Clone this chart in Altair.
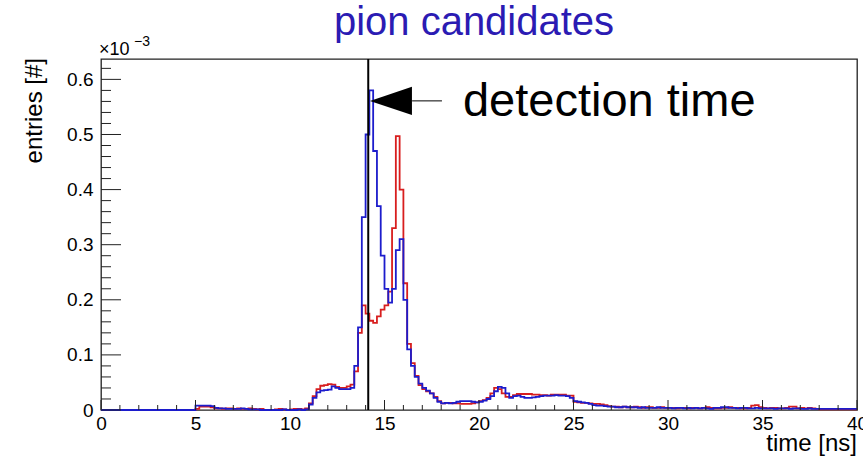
import altair as alt
import pandas as pd

# ---------------- data (values in units of 1e-3) ----------------
BIN_WIDTH = 0.2  # ns
red_counts = [
    0, 0, 0, 0, 0, 0, 0, 0, 0, 0,
    0, 0, 0, 0, 0, 0, 0, 0, 0, 0,
    0, 0, 0, 0, 0, 0.002, 0.006, 0.006, 0.006, 0.005,
    0.003, 0.003, 0.002, 0.003, 0.003, 0.002, 0.003, 0.002, 0.002, 0.003,
    0.002, 0.001, 0.002, 0, 0, 0, 0.001, 0.002, 0.001, 0,
    0.001, 0.002, 0.002, 0.001, 0.003, 0.012, 0.025, 0.038, 0.044, 0.045,
    0.047, 0.046, 0.042, 0.040, 0.040, 0.043, 0.046, 0.07, 0.14, 0.19,
    0.175, 0.162, 0.158, 0.17, 0.182, 0.19, 0.215, 0.33, 0.497, 0.40,
    0.23, 0.12, 0.085, 0.062, 0.045, 0.038, 0.034, 0.03, 0.024, 0.016,
    0.012, 0.013, 0.013, 0.012, 0.012, 0.011, 0.011, 0.011, 0.012, 0.014,
    0.016, 0.018, 0.022, 0.03, 0.04, 0.038, 0.03, 0.024, 0.024, 0.027,
    0.029, 0.029, 0.029, 0.029, 0.028, 0.028, 0.027, 0.027, 0.026, 0.028,
    0.028, 0.028, 0.028, 0.026, 0.026, 0.015, 0.014, 0.013, 0.013, 0.012,
    0.011, 0.011, 0.010, 0.009, 0.007, 0.006, 0.006, 0.005, 0.006, 0.005,
    0.005, 0.006, 0.005, 0.004, 0.005, 0.005, 0.004, 0.004, 0.005, 0.004,
    0.004, 0.004, 0.003, 0.004, 0.004, 0.003, 0.004, 0.004, 0.003, 0.004,
    0.005, 0.004, 0.003, 0.003, 0.004, 0.004, 0.005, 0.004, 0.004, 0.003,
    0.003, 0.004, 0.008, 0.009, 0.005, 0.004, 0.003, 0.004, 0.004, 0.003,
    0.003, 0.004, 0.006, 0.006, 0.003, 0.004, 0.003, 0.004, 0.003, 0.002,
    0.001, 0.001, 0.001, 0.001, 0.001, 0.001, 0.001, 0.001, 0.001, 0.001,
]
blue_counts = [
    0, 0, 0, 0, 0, 0, 0, 0, 0, 0,
    0, 0, 0, 0, 0, 0, 0, 0, 0, 0,
    0, 0, 0, 0, 0, 0.008, 0.008, 0.008, 0.008, 0.007,
    0.004, 0.003, 0.003, 0.002, 0.002, 0.002, 0.002, 0.003, 0.002, 0.001,
    0.001, 0.001, 0, 0, 0, 0, 0, 0, 0.001, 0,
    0, 0, 0.001, 0, 0.001, 0.01, 0.022, 0.032, 0.035, 0.036,
    0.037, 0.043, 0.040, 0.038, 0.038, 0.038, 0.040, 0.08, 0.15, 0.35,
    0.5, 0.58, 0.47, 0.37, 0.28, 0.22, 0.195, 0.22, 0.29, 0.31,
    0.2, 0.11, 0.08, 0.06, 0.048, 0.04, 0.035, 0.03, 0.022, 0.015,
    0.012, 0.013, 0.012, 0.013, 0.015, 0.016, 0.016, 0.016, 0.015, 0.014,
    0.015, 0.017, 0.02, 0.025, 0.034, 0.042, 0.04, 0.03, 0.022, 0.025,
    0.026, 0.024, 0.022, 0.022, 0.023, 0.024, 0.025, 0.026, 0.026, 0.026,
    0.027, 0.026, 0.026, 0.025, 0.022, 0.016, 0.015, 0.014, 0.013, 0.011,
    0.009, 0.008, 0.008, 0.007, 0.006, 0.006, 0.005, 0.005, 0.006, 0.005,
    0.005, 0.005, 0.004, 0.005, 0.004, 0.004, 0.004, 0.005, 0.004, 0.004,
    0.004, 0.003, 0.004, 0.004, 0.003, 0.004, 0.003, 0.004, 0.003, 0.004,
    0.003, 0.002, 0.004, 0.004, 0.005, 0.005, 0.004, 0.004, 0.003, 0.004,
    0.004, 0.003, 0.003, 0.004, 0.003, 0.003, 0.003, 0.003, 0.002, 0.003,
    0.003, 0.003, 0.002, 0.003, 0.003, 0.002, 0.002, 0.003, 0.002, 0.002,
    0.002, 0.002, 0.002, 0.002, 0.002, 0.002, 0.002, 0.002, 0.002, 0.002,
]
x_major_ticks = [0, 5, 10, 15, 20, 25, 30, 35, 40]
x_minor_ticks = [t for t in range(1, 40) if t % 5 != 0]
y_major_ticks = [0, 0.1, 0.2, 0.3, 0.4, 0.5, 0.6]
y_minor_ticks = [round(0.02 * k, 2) for k in range(1, 32) if k % 5 != 0]

X_DOMAIN = [0, 40]
Y_DOMAIN = [0, 0.637]
DETECTION_TIME = 14.14
ARROW_Y = 0.561
ARROW_HEAD_X = 15.34
ARROW_LINE = (16.46, 18.04)
LABEL_X, LABEL_Y = 19.15, 0.534

W, H = 756, 351
FONT = "Liberation Sans"
RED = "#d81e1e"
BLUE = "#1c1ccc"

edges = [round(i * BIN_WIDTH, 1) for i in range(len(red_counts) + 1)]


def hist_df(vals):
    return pd.DataFrame({"t": edges, "v": vals + [vals[-1]]})


xs = alt.Scale(domain=X_DOMAIN, nice=False, zero=False)
ys = alt.Scale(domain=Y_DOMAIN, nice=False, zero=False)

xaxis = alt.Axis(values=x_major_ticks, ticks=False, tickSize=0, domain=False, grid=False,
                 labelFont=FONT, labelFontSize=19, labelColor="black", labelPadding=4,
                 labelFlush=False, labelOverlap=False, labelBound=False, title=None,
                 format="d")
yaxis = alt.Axis(values=y_major_ticks, ticks=False, tickSize=0, domain=False, grid=False,
                 labelFont=FONT, labelFontSize=19, labelColor="black", labelPadding=8,
                 labelFlush=False, labelOverlap=False, labelBound=False, title=None,
                 format=".1~f")

red_line = alt.Chart(hist_df(red_counts)).mark_line(
    interpolate="step-after", color=RED, strokeWidth=1.8
).encode(x=alt.X("t:Q", scale=xs, axis=xaxis), y=alt.Y("v:Q", scale=ys, axis=yaxis))

blue_line = alt.Chart(hist_df(blue_counts)).mark_line(
    interpolate="step-after", color=BLUE, strokeWidth=1.8
).encode(x=alt.X("t:Q", scale=xs), y=alt.Y("v:Q", scale=ys))

xmaj = alt.Chart(pd.DataFrame({"t": x_major_ticks})).mark_rule(color="#222", strokeWidth=1).encode(
    x=alt.X("t:Q", scale=xs), y=alt.value(H), y2=alt.value(H - 10))
xmin = alt.Chart(pd.DataFrame({"t": x_minor_ticks})).mark_rule(color="#222", strokeWidth=1).encode(
    x=alt.X("t:Q", scale=xs), y=alt.value(H), y2=alt.value(H - 5))
ymaj = alt.Chart(pd.DataFrame({"v": y_major_ticks})).mark_rule(color="#222", strokeWidth=1).encode(
    y=alt.Y("v:Q", scale=ys), x=alt.value(0), x2=alt.value(20))
ymin = alt.Chart(pd.DataFrame({"v": y_minor_ticks})).mark_rule(color="#222", strokeWidth=1).encode(
    y=alt.Y("v:Q", scale=ys), x=alt.value(0), x2=alt.value(10))

det_line = alt.Chart(pd.DataFrame({"t": [DETECTION_TIME]})).mark_rule(
    color="black", strokeWidth=2).encode(x=alt.X("t:Q", scale=xs))

arrow_line = alt.Chart(pd.DataFrame({"t": [ARROW_LINE[0]], "t2": [ARROW_LINE[1]], "v": [ARROW_Y]})).mark_rule(
    color="black", strokeWidth=1).encode(x=alt.X("t:Q", scale=xs), x2="t2:Q", y=alt.Y("v:Q", scale=ys))

arrow_head = alt.Chart(pd.DataFrame({"t": [ARROW_HEAD_X], "v": [ARROW_Y]})).mark_point(
    shape="M -1 0 L 1 -0.667 L 1 0.667 Z", filled=True, size=1764, color="black",
    opacity=1, strokeWidth=0).encode(x=alt.X("t:Q", scale=xs), y=alt.Y("v:Q", scale=ys))

det_text = alt.Chart(pd.DataFrame({"t": [LABEL_X], "v": [LABEL_Y], "label": ["detection time"]})).mark_text(
    font=FONT, fontSize=47, color="black", align="left", baseline="alphabetic").encode(
    x=alt.X("t:Q", scale=xs), y=alt.Y("v:Q", scale=ys), text="label:N")

title = alt.Chart(pd.DataFrame({"label": ["pion candidates"]})).mark_text(
    font=FONT, fontSize=40, color="#2b1bb3", align="center", baseline="alphabetic").encode(
    x=alt.value(373), y=alt.value(-24), text="label:N")

exp_base = alt.Chart(pd.DataFrame({"label": ["×10"]})).mark_text(
    font=FONT, fontSize=18, color="black", align="left", baseline="alphabetic").encode(
    x=alt.value(-2), y=alt.value(-4), text="label:N")
exp_sup = alt.Chart(pd.DataFrame({"label": ["−3"]})).mark_text(
    font=FONT, fontSize=14, color="black", align="left", baseline="alphabetic").encode(
    x=alt.value(33), y=alt.value(-13), text="label:N")

xtitle = alt.Chart(pd.DataFrame({"label": ["time [ns]"]})).mark_text(
    font=FONT, fontSize=24, color="black", align="right", baseline="alphabetic").encode(
    x=alt.value(W), y=alt.value(392), text="label:N")
ytitle = alt.Chart(pd.DataFrame({"label": ["entries [#]"]})).mark_text(
    font=FONT, fontSize=24, color="black", align="right", baseline="alphabetic", angle=270).encode(
    x=alt.value(-59), y=alt.value(-1), text="label:N")

chart = alt.layer(
    red_line, blue_line, xmaj, xmin, ymaj, ymin, det_line, arrow_line, arrow_head,
    det_text, title, exp_base, exp_sup, xtitle, ytitle
).properties(
    width=W, height=H, autosize="none",
    padding={"left": 101, "top": 59, "right": 6, "bottom": 47},
    background="white",
).configure_view(stroke="#222", strokeWidth=1.3)

chart.save("out.html", embed_options={"renderer": "svg", "actions": False})
